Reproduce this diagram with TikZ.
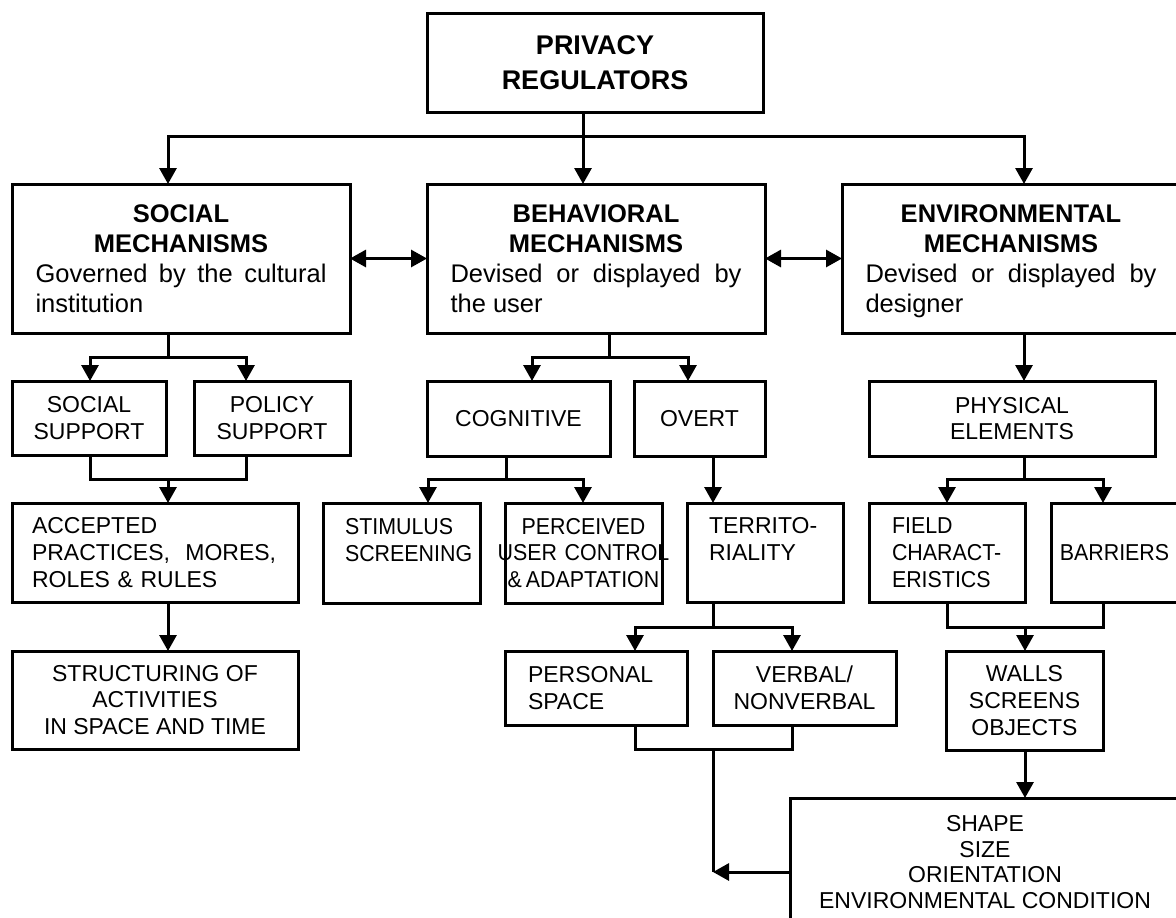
\documentclass[tikz,border=0pt]{standalone}
\usepackage{fontspec}
\setmainfont{Liberation Sans}
\newfontfamily\narrowsans{Liberation Sans}[FakeStretch=0.93]
\usetikzlibrary{arrows.meta, positioning}

\begin{document}
\begin{tikzpicture}[
  x=1pt, y=-1pt,
  box/.style={draw, line width=3pt, anchor=north west, inner sep=0pt, outer sep=0pt,
              font=\fontsize{23}{26.7}\selectfont},
  cbox/.style={box, align=center},
  lbox/.style={box, align=left},
  bigbox/.style={box, minimum width=338pt, minimum height=149pt, text width=291pt,
                 align=justify, font=\fontsize{25.5}{30}\selectfont},
  line/.style={line width=3pt},
  arr/.style={line, -{Triangle[length=16pt, width=17pt]}},
  dbl/.style={line, {Triangle[length=16pt, width=17pt]}-{Triangle[length=16pt, width=17pt]}},
]
\useasboundingbox (0,0) rectangle (1176,918);
\clip (0,0) rectangle (1176,918);

% Top
\node[cbox, minimum width=336pt, minimum height=99pt,
      font=\fontsize{27}{35}\selectfont\bfseries] (prv) at (427,13) {PRIVACY\\REGULATORS};

% Mechanisms (main row)
\node[bigbox] (soc) at (12,184)
  {\makebox[\linewidth]{\bfseries SOCIAL}\\\makebox[\linewidth]{\bfseries MECHANISMS}\\Governed by the cultural institution};
\node[bigbox] (beh) at (427,184)
  {\makebox[\linewidth]{\bfseries BEHAVIORAL}\\\makebox[\linewidth]{\bfseries MECHANISMS}\\Devised or displayed by the user};
\node[bigbox] (env) at (842,184)
  {\makebox[\linewidth]{\bfseries ENVIRONMENTAL}\\\makebox[\linewidth]{\bfseries MECHANISMS}\\Devised or displayed by \smash{designer}};

% Social branch
\node[cbox, minimum width=154pt, minimum height=74pt] (ssup) at (12,381) {SOCIAL\\SUPPORT};
\node[cbox, minimum width=156pt, minimum height=74pt] (psup) at (194,381) {POLICY\\SUPPORT};
\node[lbox, minimum width=286pt, minimum height=99pt, text width=246pt] (acc) at (12,503)
  {ACCEPTED\\PRACTICES,~~MORES,\\ROLES \& RULES};
\node[cbox, minimum width=286pt, minimum height=98pt] (str) at (12,651)
  {STRUCTURING OF\\ACTIVITIES\\IN SPACE AND TIME};

% Behavioral branch
\node[cbox, minimum width=183pt, minimum height=75pt] (cog) at (427,381) {COGNITIVE};
\node[cbox, minimum width=131pt, minimum height=75pt] (ovt) at (634,381) {OVERT};
\node[lbox, minimum width=157pt, minimum height=100pt, text width=113pt] (stim) at (323,503)
  {\narrowsans STIMULUS\\\narrowsans SCREENING\\\mbox{}};
\node[box, minimum width=157pt, minimum height=100pt, text width=140pt, align=center] (perc) at (505,503)
  {\narrowsans\makebox[\linewidth]{PERCEIVED}\\\makebox[\linewidth]{USER CONTROL}\\\makebox[\linewidth]{\&\,ADAPTATION}};
\node[lbox, minimum width=156pt, minimum height=99pt, text width=112pt] (terr) at (687,503)
  {TERRITO-\\RIALITY\\\mbox{}};
\node[lbox, minimum width=182pt, minimum height=74pt, text width=136pt] (pers) at (505,651)
  {PERSONAL\\SPACE};
\node[cbox, minimum width=183pt, minimum height=74pt] (verb) at (713,651) {VERBAL/\\NONVERBAL};

% Environmental branch
\node[cbox, minimum width=286pt, minimum height=75pt] (phys) at (869,381) {PHYSICAL\\ELEMENTS};
\node[lbox, minimum width=156pt, minimum height=99pt, text width=110pt] (fld) at (869,503)
  {\narrowsans FIELD\\\narrowsans CHARACT-\\\narrowsans ERISTICS};
\node[cbox, minimum width=127pt, minimum height=99pt, font=\fontsize{23}{26.7}\narrowsans] (bar) at (1051,503) {BARRIERS};
\node[cbox, minimum width=157pt, minimum height=99pt] (wal) at (946,651) {WALLS\\SCREENS\\OBJECTS};
\node[cbox, minimum width=390pt, minimum height=128pt, font=\fontsize{23}{25.7}\selectfont] (shp) at (790,798)
  {SHAPE\\SIZE\\ORIENTATION\\ENVIRONMENTAL CONDITION};

% Arrows - top
\coordinate (tj) at (583,136);
\draw[line] (prv.south -| tj) -- (tj);
\draw[arr] (tj) -| (soc.north -| 168,0);
\draw[arr] (tj) -- (beh.north -| tj);
\draw[arr] (tj) -| (env.north -| 1024,0);
\draw[dbl] (soc.east) -- (beh.west);
\draw[dbl] (beh.east) -- (env.west);

% Arrows - social
\coordinate (sj) at (168,357);
\draw[line] (soc.south -| sj) -- (sj);
\draw[arr] (sj) -| (ssup.north -| 90,0);
\draw[arr] (sj) -| (psup.north -| 246,0);
\coordinate (sk) at (168,479);
\draw[line] (ssup.south -| 90,0) |- (sk) -| (psup.south -| 246,0);
\draw[arr] (sk) -- (acc.north -| sk);
\draw[arr] (acc.south -| sk) -- (str.north -| sk);

% Arrows - behavioral
\coordinate (bj) at (609,357);
\draw[line] (beh.south -| bj) -- (bj);
\draw[arr] (bj) -| (cog.north -| 532,0);
\draw[arr] (bj) -| (ovt.north -| 688,0);
\coordinate (cj) at (506,479);
\draw[line] (cog.south -| cj) -- (cj);
\draw[arr] (cj) -| (stim.north -| 428,0);
\draw[arr] (cj) -| (perc.north -| 583,0);
\draw[arr] (ovt.south -| 713,0) -- (terr.north -| 713,0);
\coordinate (rj) at (713,627);
\draw[line] (terr.south -| rj) -- (rj);
\draw[arr] (rj) -| (pers.north -| 635,0);
\draw[arr] (rj) -| (verb.north -| 792,0);
\coordinate (pj) at (713,749);
\coordinate (pk) at (713,872);
\draw[line] (pers.south -| 635,0) |- (pj) -| (verb.south -| 792,0);
\draw[line] (pj) -- (pk);
\draw[arr] (shp.west |- pk) -- (pk);

% Arrows - environmental
\draw[arr] (env.south -| 1024,0) -- (phys.north -| 1024,0);
\coordinate (ej) at (1024,479);
\draw[line] (phys.south -| ej) -- (ej);
\draw[arr] (ej) -| (fld.north -| 947,0);
\draw[arr] (ej) -| (bar.north -| 1103,0);
\coordinate (fj) at (1025,627);
\draw[line] (fld.south -| 947,0) |- (fj) -| (bar.south -| 1103,0);
\draw[arr] (fj) -- (wal.north -| fj);
\draw[arr] (wal.south -| fj) -- (shp.north -| fj);

\end{tikzpicture}
\end{document}
